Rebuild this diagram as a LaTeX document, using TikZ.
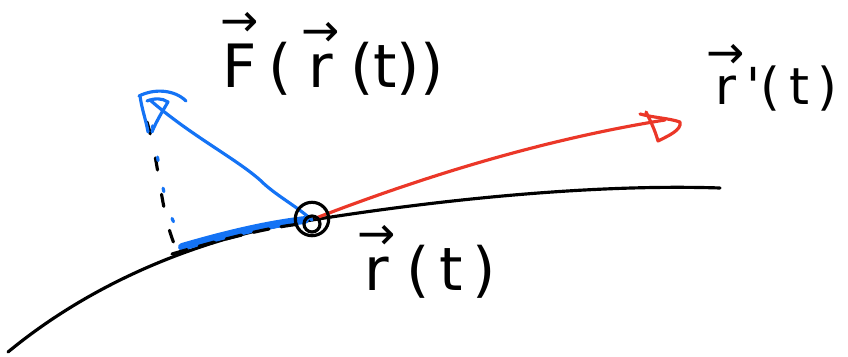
\documentclass[tikz,border=0pt]{standalone}
\usepackage{fontspec}
\newfontfamily\handfont{DejaVu Sans}
\definecolor{penblue}{RGB}{20,115,245}
\definecolor{penred}{RGB}{235,55,40}
\tikzset{
  pen/.style={line width=1.8pt, line cap=round, line join=round},
  lbl/.style={inner sep=0pt, font=\handfont\fontsize{34}{36}\selectfont},
}
\newcommand{\vv}[1]{\shortstack{{\fontsize{26}{14}\selectfont →}\\[1pt]#1}}
\begin{document}
\begin{tikzpicture}[x=0.02cm,y=-0.02cm]
\useasboundingbox (0,0) rectangle (848,357);
% curve
\draw[pen] (8,352) .. controls (110,268) and (230,232) .. (312,220)
  .. controls (450,198) and (600,184) .. (720,188);
% blue projection
\draw[penblue, line width=4.5pt, line cap=round] (182,247) .. controls (230,233) and (270,224) .. (305,220);
\draw[pen, dash pattern=on 9pt off 7pt] (172,254) .. controls (220,240) and (265,228) .. (300,224);
% dashed vertical
\draw[pen, dash pattern=on 7pt off 14pt] (147,122) .. controls (160,165) and (160,210) .. (175,246);
\draw[penblue, pen, dash pattern=on 2pt off 16pt, dash phase=-8pt] (150,112) .. controls (160,165) and (162,210) .. (182,236);
% blue vector
\coordinate (P) at (312,220);
\coordinate (Ftip) at (150,100);
\draw[penblue, pen] (P) .. controls (295,205) and (275,195) .. (260,180)
  .. controls (235,158) and (190,135) .. (Ftip);
\draw[penblue, pen] (139,96) .. controls (155,88) and (175,90) .. (186,101);
\draw[penblue, pen] (140,96) .. controls (142,110) and (146,120) .. (148,132);
\draw[penblue, pen] (147,101) .. controls (155,98) and (162,98) .. (168,102) .. controls (162,112) and (156,122) .. (152,132);
% red vector
\coordinate (Rtip) at (665,120);
\draw[penred, pen] (316,218) .. controls (420,178) and (540,140) .. (Rtip);
\draw[penred, pen] (640,114) .. controls (655,118) and (668,118) .. (680,122)
  .. controls (682,130) and (668,136) .. (658,141) .. controls (655,130) and (650,120) .. (646,112);
% point
\node[draw, pen, circle, minimum size=19pt, inner sep=0pt] (pt) at (312,219) {};
\draw[pen] (312,224) circle[radius=8];
% labels
\node[lbl] (Flab) at (332,54) {\vv{F}\,(\,\vv{r}\,(t))};
\node[lbl, font=\handfont\fontsize{29}{31}\selectfont] (rplab) at (772,78) {\vv{r}\kern1pt'(\,t\,)};
\node[lbl] (rlab) at (427,262) {\vv{r}\,(\,t\,)};
\end{tikzpicture}
\end{document}
